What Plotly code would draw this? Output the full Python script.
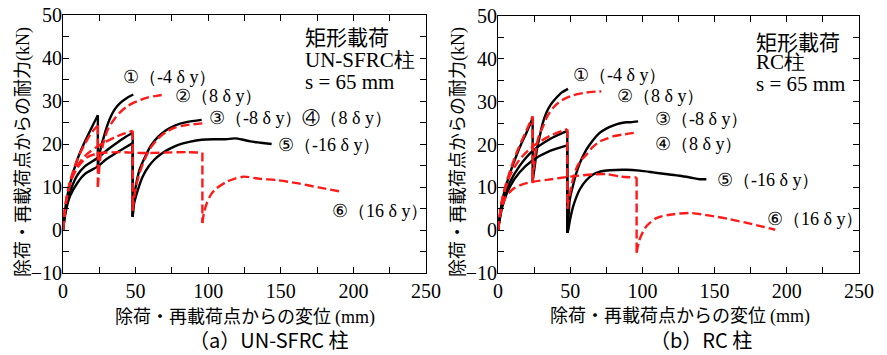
import plotly.graph_objects as go

W, H = 887, 355

# ---------------- DATA ----------------
# (a) UN-SFRC column
a1_x1 = [0, 2, 5, 10, 15, 20, 24]
a1_y1 = [0, 6, 11, 16.5, 20.5, 24, 26.7]
a1_x2 = [24, 25, 26.3, 27.8, 30, 32.4, 35.5, 39.3, 44, 48.4]
a1_y2 = [14.8, 17.2, 19.5, 21.3, 23.8, 26, 28, 29.5, 30.7, 31.5]

a2_x1 = [0, 2, 5, 10, 15, 20, 24]
a2_y1 = [0, 6.5, 11.5, 16.5, 20, 22.8, 24.3]
a2_x2 = [24, 25, 26, 27.8, 31, 35.8, 40, 44, 48, 53, 58, 64.5, 70.2]
a2_y2 = [10, 14.5, 17.5, 20.2, 23.5, 26, 27.6, 28.7, 29.5, 30.2, 30.8, 31.2, 31.5]

a3_x1 = [0, 2, 5, 10, 15, 24, 30, 36, 42, 48]
a3_y1 = [0, 5, 9, 12.8, 14.8, 16.8, 18.5, 20, 21.4, 22.6]
a3_x2 = [48, 48.8, 50.7, 53, 56.5, 60.5, 65.6, 71, 77.1, 85, 95.5]
a3_y2 = [3.1, 7, 11.2, 14.3, 17, 19.6, 21.7, 23.2, 24.3, 25.1, 25.6]

a4_x1 = [0, 2, 5, 10, 16, 24, 30, 36, 42, 48]
a4_y1 = [0, 6.5, 11, 15, 17.5, 19.5, 20.6, 21.6, 22.4, 23.1]
a4_x2 = [48, 49, 50.5, 53, 56.5, 60.5, 65.6, 71, 77.1, 85, 96]
a4_y2 = [4.5, 7.5, 10.5, 13.5, 16.6, 19.2, 21.3, 22.8, 23.8, 24.4, 24.8]

a5_x1 = [0, 2, 5, 10, 15, 24, 30, 36, 42, 48]
a5_y1 = [0, 4.5, 8, 11, 13, 14.8, 16.5, 17.8, 19, 20.2]
a5_x2 = [48, 49, 51.9, 55, 58.8, 63, 68, 73, 79.4, 87, 95.5, 105, 112, 118.5, 124, 129, 136, 143.7]
a5_y2 = [3.1, 6.2, 9.7, 12.5, 14.7, 16.4, 17.8, 18.8, 19.8, 20.5, 21.0, 21.1, 21.1, 21.3, 21.0, 20.6, 20.3, 20.0]

a6_x1 = [0, 2, 5, 10, 16, 24, 40, 55, 70, 85, 96]
a6_y1 = [0, 6, 11, 14.5, 16.8, 17.8, 18.1, 17.9, 18.0, 18.1, 18.0]
a6_x2 = [96, 97, 99, 102, 105.8, 112.7, 118, 124.2, 135.7, 147.2, 160.9, 176, 192]
a6_y2 = [1.6, 3.8, 6.2, 8.3, 9.7, 11.2, 11.9, 12.4, 11.9, 11.6, 10.9, 9.9, 8.9]

# (b) RC column
b1_x1 = [0, 3, 8, 14, 20, 24]
b1_y1 = [0, 7, 13, 18.5, 23, 26.2]
b1_x2 = [24, 25.5, 27, 28.9, 31, 33.5, 36.5, 40.4, 44, 48.5]
b1_y2 = [11.5, 15, 19, 21.9, 25, 27.4, 29.3, 30.9, 32.1, 33.0]

b2_x1 = [0, 3, 8, 14, 20, 24]
b2_y1 = [0, 7.5, 13.5, 19, 23.5, 26.6]
b2_x2 = [24, 25, 26.6, 28.5, 31.2, 34, 38.1, 42, 47.4, 52, 58.9, 65, 71.6]
b2_y2 = [11, 15, 19.6, 22.2, 24.2, 26.5, 28.5, 29.8, 30.9, 31.5, 32.0, 32.3, 32.4]

b3_x1 = [0, 3, 8, 15, 24, 36, 48]
b3_y1 = [0, 6, 11, 15, 18.5, 21.3, 23.2]
b3_x2 = [48, 48.8, 49.7, 52, 54.3, 57.5, 61.2, 65.5, 70.4, 75, 79.6, 84, 88.9, 92, 97]
b3_y2 = [-0.6, 3, 7.1, 10.5, 13.4, 16.3, 18.8, 20.9, 22.7, 23.7, 24.4, 24.9, 25.2, 25.2, 25.4]

b4_x1 = [0, 3, 8, 15, 24, 36, 48]
b4_y1 = [0, 7, 12.5, 16.5, 19.5, 22, 23.6]
b4_x2 = [48, 49.5, 52, 55, 58, 61.2, 65, 70.4, 75, 79.6, 88, 96]
b4_y2 = [5, 8, 12, 15, 16.5, 17.6, 19.2, 20.7, 21.3, 21.9, 22.4, 22.8]

b5_x1 = [0, 3, 8, 15, 24, 36, 48]
b5_y1 = [0, 5.5, 10, 13.5, 16.3, 18.5, 19.8]
b5_x2 = [48, 48.6, 49.7, 52, 56.6, 61, 65.8, 71, 77.4, 88.9, 98, 107.3, 116, 125.8, 133, 139.7, 144.3]
b5_y2 = [-0.6, 0, 2.1, 5.5, 9.5, 11.6, 13.0, 13.7, 14.0, 14.1, 13.9, 13.5, 13.1, 12.7, 12.3, 11.9, 11.9]

b6_x1 = [0, 2, 5, 10, 16, 24, 35, 50, 65, 75, 85, 96]
b6_y1 = [0, 4.5, 7.5, 9.5, 10.6, 11.3, 11.8, 12.5, 13.0, 13.1, 12.5, 12.3]
b6_x2 = [96, 98, 102.8, 109.7, 118.9, 132.8, 146.6, 160, 176, 192]
b6_y2 = [-5.3, -2.2, 0.9, 2.8, 3.6, 4.0, 3.4, 2.6, 1.4, 0.1]

x_ticks = [0, 50, 100, 150, 200, 250]
y_ticks = [-10, 0, 10, 20, 30, 40, 50]

labels_a = ["①（-4 δ y）", "②（8 δ y）", "③（-8 δ y）④（8 δ y）", "⑤（-16 δ y）", "⑥（16 δ y）"]
labels_b = ["①（-4 δ y）", "②（8 δ y）", "③（-8 δ y）", "④（8 δ y）", "⑤（-16 δ y）", "⑥（16 δ y）"]
box_a = ["矩形載荷", "UN-SFRC柱", "s = 65 mm"]
box_b = ["矩形載荷", "RC柱", "s = 65 mm"]
x_title = "除荷・再載荷点からの変位 <span style='font-family:Liberation Serif'>(mm)</span>"
y_title = "除荷・再載荷点からの耐力<span style='font-family:Liberation Serif'>(kN)</span>"
cap_a = "（a）UN-SFRC 柱"
cap_b = "（b）RC 柱"

# ---------------- STYLE ----------------
BLACK = "#000000"
RED = "#ff1a1a"
SERIF = "Liberation Serif"
GOTHIC = "Noto Sans CJK JP"

fig = go.Figure()

def add_curve(x1, y1, x2, y2, color, dashed, xa, ya):
    line = dict(color=color, width=2.4, dash="9px,4px" if dashed else "solid")
    common = dict(mode="lines", showlegend=False, hoverinfo="skip", xaxis=xa, yaxis=ya)
    fig.add_trace(go.Scatter(x=x1, y=y1, line=dict(line, shape="spline", smoothing=0.8), **common))
    fig.add_trace(go.Scatter(x=[x1[-1], x2[0]], y=[y1[-1], y2[0]], line=dict(line, shape="linear"), **common))
    fig.add_trace(go.Scatter(x=x2, y=y2, line=dict(line, shape="spline", smoothing=0.8), **common))

curves_a = [(a1_x1, a1_y1, a1_x2, a1_y2, BLACK, False),
            (a3_x1, a3_y1, a3_x2, a3_y2, BLACK, False),
            (a5_x1, a5_y1, a5_x2, a5_y2, BLACK, False),
            (a2_x1, a2_y1, a2_x2, a2_y2, RED, True),
            (a4_x1, a4_y1, a4_x2, a4_y2, RED, True),
            (a6_x1, a6_y1, a6_x2, a6_y2, RED, True)]
curves_b = [(b1_x1, b1_y1, b1_x2, b1_y2, BLACK, False),
            (b3_x1, b3_y1, b3_x2, b3_y2, BLACK, False),
            (b5_x1, b5_y1, b5_x2, b5_y2, BLACK, False),
            (b2_x1, b2_y1, b2_x2, b2_y2, RED, True),
            (b4_x1, b4_y1, b4_x2, b4_y2, RED, True),
            (b6_x1, b6_y1, b6_x2, b6_y2, RED, True)]
for c in curves_a:
    add_curve(*c, "x", "y")
for c in curves_b:
    add_curve(*c, "x2", "y2")

def px_x(p):
    return p / W

def px_y(p):
    return 1 - p / H

axis_common = dict(showline=True, linecolor="black", linewidth=1, mirror="ticks",
                   ticks="inside", ticklen=6, tickwidth=1, tickcolor="black",
                   showgrid=False, zeroline=False, automargin=False,
                   ticklabeloverflow="allow",
                   tickfont=dict(family=SERIF, size=20, color="black"))

xa = dict(axis_common, range=[0, 250], tickvals=x_ticks,
          minor=dict(dtick=25, tick0=0, ticks="inside", ticklen=6, tickcolor="black", tickwidth=1))
ya = dict(axis_common, range=[-10, 50], tickvals=y_ticks, ticklabelstandoff=-4,
          minor=dict(dtick=5, tick0=0, ticks="inside", ticklen=6, tickcolor="black", tickwidth=1))

fig.update_layout(
    width=W, height=H, margin=dict(l=0, r=0, t=0, b=0, autoexpand=False),
    paper_bgcolor="white", plot_bgcolor="white",
    xaxis=dict(xa, domain=[px_x(63), px_x(426)], anchor="y"),
    yaxis=dict(ya, domain=[px_y(273), px_y(15)], anchor="x"),
    xaxis2=dict(xa, domain=[px_x(498), px_x(859)], anchor="y2"),
    yaxis2=dict(ya, domain=[px_y(273), px_y(16)], anchor="x2"),
)

ann = []
def text(t, x, y, size, family, xanchor="left", yanchor="middle", angle=0):
    ann.append(dict(text=t, x=px_x(x), y=px_y(y), xref="paper", yref="paper",
                    xanchor=xanchor, yanchor=yanchor, showarrow=False, textangle=angle,
                    borderpad=0,
                    font=dict(size=size, family=family, color="black")))

pos_a = [(122, 77), (174, 96), (208, 118), (277, 145), (331, 211)]
pos_b = [(572, 75), (616, 96), (654, 119), (654, 144), (716, 180), (766, 219)]
for t, (x, y) in zip(labels_a, pos_a):
    text(t, x, y, 18, SERIF)
for t, (x, y) in zip(labels_b, pos_b):
    text(t, x, y, 18, SERIF)

text(box_a[0], 304, 36, 21, GOTHIC)
text(box_a[1], 304, 60, 21, SERIF)
text(box_a[2], 304, 82, 21, SERIF)
text(box_b[0], 755, 41, 21, GOTHIC)
text(box_b[1], 755, 62, 21, SERIF)
text(box_b[2], 755, 84, 21, SERIF)

text(x_title, 245, 315, 18, GOTHIC, xanchor="center")
text(x_title, 680, 314, 18, GOTHIC, xanchor="center")
text(y_title, 21, 152, 18, GOTHIC, xanchor="center", angle=-90)
text(y_title, 456, 152, 18, GOTHIC, xanchor="center", angle=-90)
text(cap_a, 269, 339, 20, GOTHIC, xanchor="center")
text(cap_b, 701, 339, 20, GOTHIC, xanchor="center")

fig.update_layout(annotations=ann)
fig.write_html("out.html", config={"displayModeBar": False},
               post_script="document.body.style.margin='0';")
